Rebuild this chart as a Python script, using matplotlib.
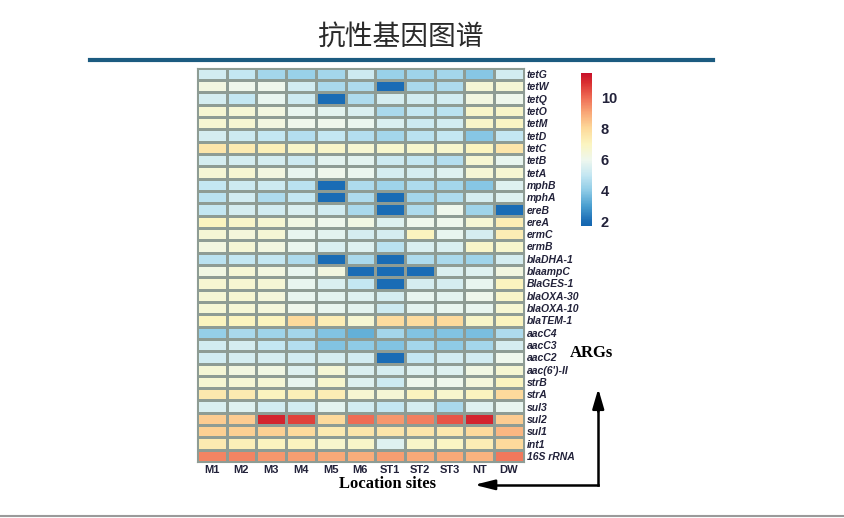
import matplotlib.pyplot as plt
import numpy as np
from matplotlib.colors import LinearSegmentedColormap

plt.rcParams['font.family'] = ['Liberation Sans', 'Noto Sans CJK SC', 'DejaVu Sans']

sites = ['M1', 'M2', 'M3', 'M4', 'M5', 'M6', 'ST1', 'ST2', 'ST3', 'NT', 'DW']
genes = ['tetG', 'tetW', 'tetQ', 'tetO', 'tetM', 'tetD', 'tetC', 'tetB', 'tetA',
         'mphB', 'mphA', 'ereB', 'ereA', 'ermC', 'ermB', 'blaDHA-1', 'blaampC',
         'BlaGES-1', 'blaOXA-30', 'blaOXA-10', 'blaTEM-1', 'aacC4', 'aacC3',
         'aacC2', "aac(6')-II", 'strB', 'strA', 'sul3', 'sul2', 'sul1', 'int1',
         '16S rRNA']

# log abundance per gene (rows) and site (cols)
tetG     = [5.3, 5.0, 4.4, 4.2, 4.4, 5.2, 4.2, 4.3, 4.4, 3.9, 5.3]
tetW     = [6.3, 6.0, 6.0, 5.3, 4.5, 4.6, 2.0, 4.5, 4.6, 6.5, 6.5]
tetQ     = [5.4, 5.0, 5.8, 5.2, 2.0, 4.6, 5.4, 5.3, 5.3, 6.3, 6.0]
tetO     = [6.6, 6.5, 6.3, 5.8, 5.7, 5.5, 4.5, 5.0, 4.8, 6.8, 6.8]
tetM     = [6.6, 6.6, 6.3, 6.0, 6.0, 5.9, 5.5, 5.2, 5.3, 6.8, 6.9]
tetD     = [5.4, 5.2, 5.0, 4.7, 5.0, 4.7, 4.4, 4.8, 5.0, 3.9, 5.0]
tetC     = [7.6, 7.4, 7.2, 6.8, 6.8, 6.6, 6.7, 6.7, 6.7, 7.0, 7.6]
tetB     = [5.4, 5.4, 5.4, 5.2, 5.7, 5.7, 5.2, 5.0, 4.7, 6.6, 5.8]
tetA     = [6.5, 6.6, 6.3, 5.8, 6.0, 5.9, 5.4, 5.4, 5.6, 6.5, 6.6]
mphB     = [5.0, 5.2, 5.2, 4.8, 2.0, 4.6, 4.3, 4.6, 4.4, 3.9, 5.6]
mphA     = [4.8, 5.3, 4.6, 5.0, 2.0, 4.6, 2.0, 4.4, 4.6, 5.4, 5.6]
ereB     = [5.0, 5.4, 5.3, 5.5, 5.3, 4.5, 2.0, 4.6, 6.0, 4.3, 2.0]
ereA     = [7.0, 6.8, 6.6, 6.2, 6.0, 6.2, 5.6, 6.0, 6.0, 6.5, 7.3]
ermC     = [6.5, 6.4, 6.5, 5.8, 5.7, 5.4, 5.4, 7.0, 5.8, 5.4, 7.3]
ermB     = [6.3, 6.5, 6.3, 5.9, 5.5, 5.6, 4.8, 5.5, 5.5, 6.8, 6.7]
blaDHA1  = [4.8, 5.0, 5.0, 4.6, 2.0, 4.5, 2.0, 4.6, 4.5, 4.3, 5.4]
blaampC  = [6.2, 6.5, 6.3, 5.8, 6.3, 2.0, 2.0, 2.0, 5.5, 5.6, 6.3]
blaGES1  = [6.6, 6.6, 6.5, 5.8, 5.5, 5.0, 2.0, 5.4, 5.4, 5.8, 7.0]
blaOXA30 = [6.5, 6.6, 6.4, 5.8, 5.7, 5.6, 5.4, 5.8, 5.7, 6.0, 6.8]
blaOXA10 = [6.5, 6.5, 6.4, 6.0, 5.8, 5.7, 5.2, 5.7, 5.8, 5.8, 6.6]
blaTEM1  = [7.0, 7.0, 7.0, 8.0, 7.3, 6.6, 7.9, 7.9, 8.0, 6.8, 7.0]
aacC4    = [4.1, 4.5, 4.3, 4.4, 3.8, 3.4, 4.4, 3.8, 3.8, 3.7, 4.6]
aacC3    = [5.3, 5.4, 5.0, 4.7, 3.8, 4.0, 3.8, 4.4, 4.0, 4.4, 5.4]
aacC2    = [5.3, 5.4, 5.4, 5.3, 5.4, 5.3, 2.0, 5.0, 5.3, 5.3, 6.0]
aac6II   = [6.5, 6.3, 6.2, 5.6, 6.5, 5.5, 5.4, 5.6, 5.6, 6.2, 6.6]
strB     = [6.6, 6.5, 6.5, 5.8, 6.7, 5.6, 5.2, 6.0, 6.0, 6.4, 7.0]
strA     = [7.5, 7.4, 7.0, 7.2, 7.3, 6.6, 6.5, 7.0, 6.7, 7.0, 8.0]
sul3     = [5.5, 5.6, 5.3, 5.3, 5.7, 5.3, 5.0, 5.4, 4.5, 5.6, 5.8]
sul2     = [8.3, 8.3, 11.2, 10.7, 8.0, 10.0, 9.3, 9.7, 10.4, 11.2, 8.3]
sul1     = [8.2, 8.2, 8.2, 8.0, 7.4, 7.6, 7.6, 7.6, 7.5, 8.0, 8.7]
int1     = [7.4, 7.2, 7.0, 7.0, 6.7, 6.8, 5.6, 6.8, 6.9, 7.3, 8.0]
rRNA16S  = [9.6, 9.6, 9.3, 9.2, 9.0, 8.9, 9.2, 9.0, 9.0, 8.8, 9.8]

values = np.array([tetG, tetW, tetQ, tetO, tetM, tetD, tetC, tetB, tetA,
                   mphB, mphA, ereB, ereA, ermC, ermB, blaDHA1, blaampC,
                   blaGES1, blaOXA30, blaOXA10, blaTEM1, aacC4, aacC3, aacC2,
                   aac6II, strB, strA, sul3, sul2, sul1, int1, rRNA16S])
cbar_ticks = [2, 4, 6, 8, 10]

cmap = LinearSegmentedColormap.from_list('args', [
    (0.00, '#1466b0'), (0.03, '#1b6db5'), (0.13, '#4a9fd0'), (0.23, '#8ecbe6'),
    (0.33, '#c3e6f2'), (0.43, '#eef7ee'), (0.535, '#fbf5c0'), (0.64, '#fdd99a'),
    (0.74, '#f9a877'), (0.84, '#ef6c55'), (0.94, '#d92e30'), (1.00, '#c8102a')])
vmin, vmax = 1.7, 11.6

fig = plt.figure(figsize=(8.45, 5.18), dpi=100)
fig.patch.set_facecolor('white')

# heatmap
ax = fig.add_axes([0.233, 0.108, 0.387, 0.761])
mesh = ax.pcolormesh(values, cmap=cmap, vmin=vmin, vmax=vmax,
                     edgecolors='#8e9c94', linewidth=0.8)
ax.set_xlim(0, len(sites))
ax.set_ylim(len(genes), 0)
ax.set_xticks(np.arange(len(sites)) + 0.5)
ax.set_xticklabels(sites, fontsize=8, fontweight='bold', color='#22223a')
ax.set_yticks(np.arange(len(genes)) + 0.5)
ax.set_yticklabels(genes, fontsize=7.5, fontweight='bold', style='italic',
                   color='#22223a')
ax.yaxis.tick_right()
ax.tick_params(length=0, pad=2)
for s in ax.spines.values():
    s.set_color('#8e9c94')
    s.set_linewidth(0.8)

# colorbar
cax = fig.add_axes([0.688, 0.564, 0.013, 0.295])
cb = fig.colorbar(mesh, cax=cax, ticks=cbar_ticks)
cb.outline.set_visible(False)
cax.tick_params(length=0, pad=6, labelsize=10.5)
for t in cax.get_yticklabels():
    t.set_fontweight('bold')
    t.set_color('#22223a')

# title and rule
fig.text(0.474, 0.927, '抗性基因图谱', fontsize=20, color='#2a2a2a',
         ha='center', va='center', family=['Noto Sans CJK SC', 'DejaVu Sans'])
fig.add_artist(plt.Line2D([0.106, 0.844], [0.884, 0.884], color='#1c5b80',
                          linewidth=3))
fig.add_artist(plt.Line2D([0.0, 1.0], [0.004, 0.004], color='#9a9a9a',
                          linewidth=1.5))

# axis annotations
fig.text(0.700, 0.318, 'ARGs', fontsize=12, fontweight='bold',
         family='Liberation Serif', ha='center', va='center')
fig.text(0.459, 0.066, 'Location sites', fontsize=12, fontweight='bold',
         family='Liberation Serif', ha='center', va='center')
fig.add_artist(plt.Line2D([0.708, 0.708], [0.064, 0.22], color='black',
                          linewidth=1.8))
fig.add_artist(plt.Line2D([0.575, 0.708], [0.064, 0.064], color='black',
                          linewidth=1.8))
ax.annotate('', xy=(0.708, 0.255), xytext=(0.708, 0.20),
            xycoords='figure fraction',
            arrowprops=dict(arrowstyle='-|>,head_width=0.35,head_length=1.2',
                            color='black', lw=1.8))
ax.annotate('', xy=(0.558, 0.064), xytext=(0.59, 0.064),
            xycoords='figure fraction',
            arrowprops=dict(arrowstyle='-|>,head_width=0.3,head_length=1.2',
                            color='black', lw=1.8))

plt.savefig('out.png', dpi=100)
